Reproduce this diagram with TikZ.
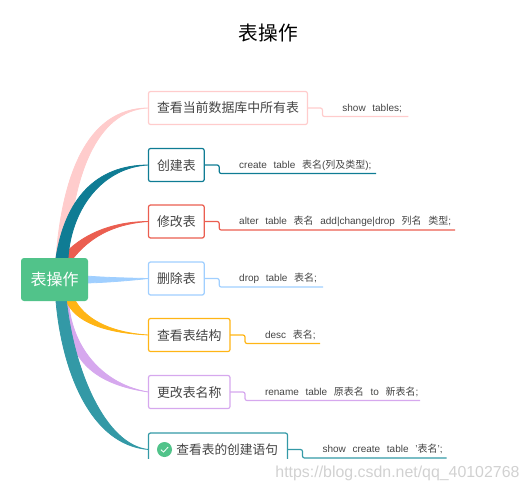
\documentclass[tikz,border=0pt]{standalone}
\usepackage{fontspec}
\usepackage{xcolor}
\setmainfont{Liberation Sans}
\newfontfamily\cjk{Noto Sans CJK SC}
\usetikzlibrary{positioning, calc, backgrounds}

\definecolor{rootgreen}{HTML}{51C38A}
\definecolor{hblpink}{HTML}{FFCCCC}
\definecolor{hblteal}{HTML}{0F7C94}
\definecolor{hblred}{HTML}{EB5E50}
\definecolor{hblblue}{HTML}{A0CFFF}
\definecolor{hblyellow}{HTML}{FFB515}
\definecolor{hblpurple}{HTML}{D6A8EE}
\definecolor{hblcyan}{HTML}{3399A6}
\definecolor{hbltext}{HTML}{444444}

\begin{document}
\begin{tikzpicture}[x=1pt, y=-1pt, node distance=15pt,
    root/.style={rectangle, fill=rootgreen, rounded corners=3pt, minimum width=67pt, minimum height=43pt, inner sep=0pt, text=white, font=\cjk\fontsize{16}{16}\selectfont},
    topic/.style={rectangle, draw=#1, fill=white, line width=1.2pt, rounded corners=2pt, anchor=west, minimum height=33pt, inner xsep=8.5pt, inner ysep=0pt, outer sep=0pt, text=hbltext, text height=11.5pt, text depth=1.5pt, font=\cjk\fontsize{12.9}{13}\selectfont},
    leaf/.style={rectangle, minimum height=17pt, inner sep=0pt, outer sep=0pt, text width=#1, align=left, text=hbltext, text height=8pt, text depth=2pt, font=\fontsize{10}{11}\selectfont, execute at begin node=\hspace*{20pt}},
    line/.style={draw=#1, line width=1.2pt, rounded corners=2pt},
    branch/.style={fill=#1, draw=#1, line width=0.8pt}]

    \useasboundingbox (0,0) rectangle (529,492);

    \node [font=\cjk\fontsize{19.7}{20}\selectfont] (title) at (268.5,33) {表操作};
    \node [root] (table) at (54.5,279.5) {表操作};

    \node [topic=hblpink] (list) at (148.5,108) {查看当前数据库中所有表};
    \node [topic=hblteal] (create) at (148.5,165) {创建表};
    \node [topic=hblred] (alter) at (148.5,221.5) {修改表};
    \node [topic=hblblue] (drop) at (148.5,278.5) {删除表};
    \node [topic=hblyellow] (desc) at (148.5,335) {查看表结构};
    \node [topic=hblpurple] (rename) at (148.5,392) {更改表名称};
    \node [topic=hblcyan, inner xsep=0pt, minimum width=139pt] (ddl) at (148.5,449.5) {};
    \node [circle, fill=rootgreen, minimum size=15pt, inner sep=0pt] (tick) at ($(ddl.west)+(16,0)$) {};
    \node [right=4pt of tick, text=hbltext, inner sep=0pt, text height=11.5pt, text depth=1.5pt, font=\cjk\fontsize{12.7}{13}\selectfont] (ddltext) {查看表的创建语句};
    \draw [white, line width=0.8pt] ($(tick.center)+(-3.6,0.2)$) -- ($(tick.center)+(-1,2.6)$) -- ($(tick.center)+(3.6,-2.4)$);

    \node [leaf=86pt, right=of list] (listsql) {show\ \ tables;};
    \node [leaf=157pt, right=of create] (createsql) {create\ \ table\ \ {\cjk 表名}({\cjk 列及类型});};
    \node [leaf=236pt, right=of alter] (altersql) {alter\ \ table\ \ {\cjk 表名}\ \ add|change|drop\ \ {\cjk 列名}\ \ {\cjk 类型};};
    \node [leaf=104pt, right=of drop] (dropsql) {drop\ \ table\ \ {\cjk 表名};};
    \node [leaf=75pt, right=of desc] (descsql) {desc\ \ {\cjk 表名};};
    \node [leaf=175pt, right=of rename] (renamesql) {rename\ \ table\ \ {\cjk 原表名}\ \ to\ \ {\cjk 新表名};};
    \node [leaf=144pt, right=of ddl] (ddlsql) {show\ \ create\ \ table\ \ '{\cjk 表名}';};

    \path [line=hblpink] (list.east) -- (listsql.west) -- (listsql.south west) -- (listsql.south east);
    \path [line=hblteal] (create.east) -- (createsql.west) -- (createsql.south west) -- (createsql.south east);
    \path [line=hblred] (alter.east) -- (altersql.west) -- (altersql.south west) -- (altersql.south east);
    \path [line=hblblue] (drop.east) -- (dropsql.west) -- (dropsql.south west) -- (dropsql.south east);
    \path [line=hblyellow] (desc.east) -- (descsql.west) -- (descsql.south west) -- (descsql.south east);
    \path [line=hblpurple] (rename.east) -- (renamesql.west) -- (renamesql.south west) -- (renamesql.south east);
    \path [line=hblcyan] (ddl.east) -- (ddlsql.west) -- (ddlsql.south west) -- (ddlsql.south east);

    \begin{scope}[on background layer]
        \path [branch=hblpink] ($(table.north)+(1.5,0)$) .. controls (62,180) and (85,108) .. (list.west) .. controls (95,110) and (72,180) .. ($(table.north)+(13.5,0)$) -- cycle;
        \path [branch=hblred] ($(table.north)+(7,0)$) .. controls (75,240) and (105,221.5) .. (alter.west) .. controls (110,224) and (88,240) .. ($(table.north)+(19,0)$) -- cycle;
        \path [branch=hblteal] ($(table.north)+(1.5,0)$) .. controls (65,200) and (95,165) .. (create.west) .. controls (105,167) and (72,205) .. ($(table.north)+(13.5,0)$) -- cycle;
        \path [branch=hblblue] ($(table.east)+(-2,-3.5)$) .. controls (105,277.5) and (125,278) .. (drop.west) .. controls (125,281) and (105,282.5) .. ($(table.east)+(-2,3.5)$) -- cycle;
        \path [branch=hblpurple] ($(table.south)+(10.5,0)$) .. controls (66,345) and (78,382) .. (rename.west) .. controls (105,385) and (72,350) .. ($(table.south)+(14,0)$) -- cycle;
        \path [branch=hblyellow] ($(table.south)+(12,0)$) .. controls (75,322) and (105,333) .. (desc.west) .. controls (115,333) and (88,322) .. ($(table.south)+(21,0)$) -- cycle;
        \path [branch=hblcyan] ($(table.south)+(1.5,0)$) .. controls (62,370) and (90,445) .. (ddl.west) .. controls (105,445) and (74,370) .. ($(table.south)+(12,0)$) -- cycle;
    \end{scope}

    \fill [white] (140,458.6) rectangle (296,470);
    \node [text=black!18, font=\fontsize{15.9}{16}\selectfont, anchor=east] (mark) at (523,473) {https://blog.csdn.net/qq\_40102768};
\end{tikzpicture}
\end{document}
